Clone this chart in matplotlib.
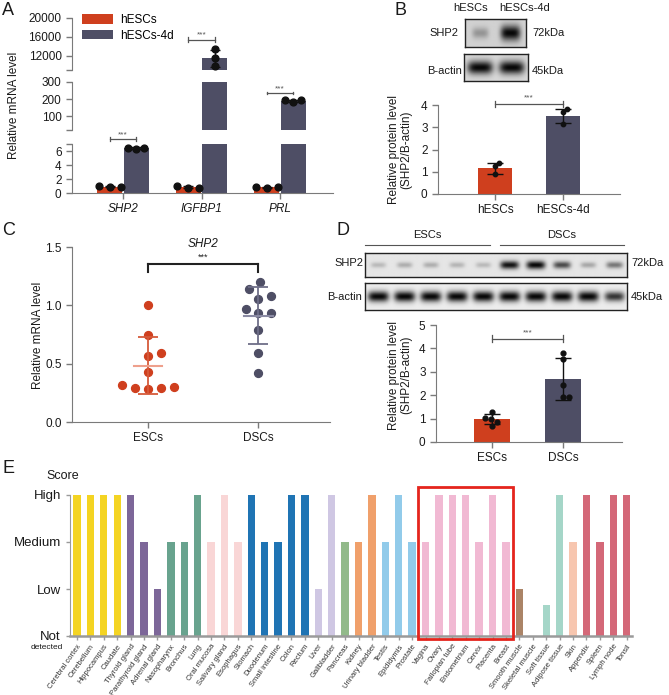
import numpy as np
import matplotlib
matplotlib.use('Agg')
import matplotlib.pyplot as plt
from matplotlib.patches import Patch, Rectangle

plt.rcParams['font.family'] = ['Liberation Sans', 'DejaVu Sans']

W, H = 669, 695
RED = '#cf3f1e'
DARK = '#4e4e65'
AX_C = '#7a7a7a'
TXT = '#1a1a1a'

# A: qPCR hESCs vs hESCs-4d
genes = ['SHP2', 'IGFBP1', 'PRL']
a_ctrl_mean = [0.9, 0.8, 0.8]
a_ctrl_err = [0.05, 0.15, 0.08]
a_ctrl_pts = [[0.9, 0.95, 0.9], [0.65, 0.95, 0.7], [0.75, 0.9, 0.9]]
a_dec_mean = [6.4, 11500, 190]
a_dec_err = [0.12, 1800, 5]
a_dec_pts = [[6.25, 6.5, 6.5], [13400, 11500, 9800], [186, 194, 195]]

# B: western blot hESCs vs hESCs-4d
b_groups = ['hESCs', 'hESCs-4d']
b_mean = [1.15, 3.5]
b_err = [0.25, 0.33]
b_pts = [[1.4, 1.25, 0.9], [3.8, 3.7, 3.15]]
b_shp2_band = [0.3, 1.0]
b_actin_band = [1.0, 1.0]

# C: SHP2 mRNA in ESCs / DSCs
c_groups = ['ESCs', 'DSCs']
c_escs = [1.0, 0.746, 0.588, 0.568, 0.43, 0.29, 0.313, 0.295, 0.304, 0.284]
c_dscs = [1.199, 1.139, 1.084, 1.058, 0.972, 0.932, 0.932, 0.789, 0.588, 0.424]
c_mean = [0.482, 0.912]
c_sd = [0.244, 0.244]

# D: western blot ESCs / DSCs
d_groups = ['ESCs', 'DSCs']
d_mean = [0.97, 2.7]
d_err = [0.21, 0.9]
d_pts = [[1.29, 0.87, 1.04, 0.69, 1.0], [3.79, 3.53, 2.43, 1.93, 1.93]]
d_shp2_band = [0.2, 0.25, 0.25, 0.22, 0.2, 0.95, 1.0, 0.7, 0.28, 0.5]
d_actin_band = [1.0, 1.0, 1.0, 1.0, 1.0, 1.0, 1.0, 1.0, 1.0, 0.8]

# E: tissue expression score
tissues = ['Cerebral cortex', 'Cerebellum', 'Hippocampus', 'Caudate', 'Thyroid gland',
           'Parathyroid gland', 'Adrenal gland', 'Nasopharynx', 'Bronchus', 'Lung',
           'Oral mucosa', 'Salivary gland', 'Esophagus', 'Stomach', 'Duodenum',
           'Small intestine', 'Colon', 'Rectum', 'Liver', 'Gallbladder', 'Pancreas',
           'Kidney', 'Urinary bladder', 'Testis', 'Epididymis', 'Prostate', 'Vagina',
           'Ovary', 'Fallopian tube', 'Endometrium', 'Cervix', 'Placenta', 'Breast',
           'Smooth muscle', 'Skeletal muscle', 'Soft tissue', 'Adipose tissue', 'Skin',
           'Appendix', 'Spleen', 'Lymph node', 'Tonsil']
scores = [3, 3, 3, 3, 3, 2, 1, 2, 2, 3, 2, 3, 2, 3, 2, 2, 3, 3, 1, 3, 2,
          2, 3, 2, 3, 2, 2, 3, 3, 3, 2, 3, 2, 1, 0, 0.67, 3, 2, 3, 2, 3, 3]
score_labels = ['Not', 'Low', 'Medium', 'High']
organ_colors = [('#f4d423', 4), ('#7d6799', 3), ('#68a38e', 3), ('#f9d6d6', 3),
                ('#1f74b4', 5), ('#cfc7e3', 2), ('#92ba8a', 1), ('#f0a06b', 2),
                ('#92cbea', 3), ('#f1b9d3', 7), ('#ab8467', 2), ('#a5d6c8', 2),
                ('#f7c6af', 1), ('#d46878', 4)]

fig = plt.figure(figsize=(W / 100, H / 100), dpi=100)


def px(x, y):
    return x / W, 1 - y / H


def add_ax(x0, y0, x1, y1):
    return fig.add_axes([x0 / W, 1 - y1 / H, (x1 - x0) / W, (y1 - y0) / H])


def clean(ax, bottom=True):
    for s in ['top', 'right']:
        ax.spines[s].set_visible(False)
    ax.spines['left'].set_color(AX_C)
    ax.spines['bottom'].set_color(AX_C)
    ax.tick_params(colors=AX_C, labelcolor=TXT, length=4, width=1, labelsize=8.5)
    if not bottom:
        ax.spines['bottom'].set_visible(False)
        ax.tick_params(axis='x', bottom=False, labelbottom=False)


def swarm(ax, xc, vals, gap):
    # simple beeswarm in pixel space, returns x in data units
    tr = ax.transData
    pix = tr.transform(np.column_stack([np.full(len(vals), xc), vals]))
    x0 = pix[0, 0]
    steps = np.arange(0.5, 8 * gap, 0.5)
    cands = np.concatenate([[0], np.column_stack([steps, -steps]).ravel()])
    placed = []
    xs = np.empty(len(vals))
    for i in np.argsort(vals):
        y = pix[i, 1]
        for c in cands:
            if all((x0 + c - a) ** 2 + (y - b) ** 2 >= gap ** 2 for a, b in placed):
                break
        placed.append((x0 + c, y))
        xs[i] = x0 + c
    return tr.inverted().transform(np.column_stack([xs, pix[:, 1]]))[:, 0]


def bracket(ax, x0, x1, y, tick, ty, color='#555555', lw=0.9, down=False, fs=6):
    lo, hi = (y - tick, y) if down else (y - tick, y + tick)
    ax.plot([x0, x1], [y, y], color=color, lw=lw, clip_on=False)
    for xx in (x0, x1):
        ax.plot([xx, xx], [lo, hi], color=color, lw=lw, clip_on=False)
    ax.text((x0 + x1) / 2, ty, '***', ha='center', va='bottom', fontsize=fs,
            color=color, clip_on=False)


def blot(ax, levels, bg, bw, bh):
    n = len(levels)
    xx = np.linspace(0, n, n * 40)
    yy = np.linspace(-1, 1, 40)
    X, Y = np.meshgrid(xx, yy)
    img = np.zeros_like(X)
    for i, lv in enumerate(levels):
        sw = bw * (0.75 + 0.25 * lv)
        sh = bh * (0.6 + 0.4 * lv)
        img += lv * np.exp(-((X - i - 0.5) / sw) ** 4 - (Y / sh) ** 2)
    img = bg - (bg - 0.03) * np.clip(img, 0, 1)
    ax.imshow(img, cmap='gray', vmin=0, vmax=1, aspect='auto', extent=(0, n, 0, 1))
    ax.set_xticks([])
    ax.set_yticks([])
    for s in ax.spines.values():
        s.set_color('#222222')
        s.set_linewidth(1)


# ---------------- A ----------------
ax_top = add_ax(72, 18, 333, 70)
ax_mid = add_ax(72, 82, 333, 130)
ax_bot = add_ax(72, 144, 333, 193)
a_axes = [ax_top, ax_mid, ax_bot]
lims = [(9000, 20000), (20, 300), (0, 7)]
ticks = [([9000, 12000, 16000, 20000], ['', '12000', '16000', '20000']),
         ([20, 100, 200, 300], ['', '100', '200', '300']),
         ([0, 2, 4, 6, 7], ['0', '2', '4', '6', ''])]
xg = np.arange(len(genes))
off, bw = 0.17, 0.32
for ax, lim, (tv, tl) in zip(a_axes, lims, ticks):
    ax.bar(xg - off, a_ctrl_mean, bw, color=RED, zorder=2)
    ax.bar(xg + off, a_dec_mean, bw, color=DARK, zorder=2)
    ax.errorbar(xg - off, a_ctrl_mean, yerr=a_ctrl_err, fmt='none', ecolor='#111111',
                elinewidth=1, capsize=3.5, zorder=3)
    ax.errorbar(xg + off, a_dec_mean, yerr=a_dec_err, fmt='none', ecolor='#111111',
                elinewidth=1, capsize=3.5, zorder=3)
    ax.set_xlim(-0.65, 2.675)
    ax.set_ylim(*lim)
    ax.set_yticks(tv)
    ax.set_yticklabels(tl)
    clean(ax, bottom=(ax is ax_bot))
ax_bot.set_xticks(xg)
ax_bot.set_xticklabels(genes, style='italic')


def seg_for(v):
    for ax, (lo, hi) in zip(a_axes, lims):
        if lo <= v <= hi:
            return ax
    return ax_bot


for i in range(len(genes)):
    for xc, pts, gap in ((xg[i] - off, a_ctrl_pts[i], 11), (xg[i] + off, a_dec_pts[i], 8)):
        home = seg_for(np.median(pts))
        xs = swarm(home, xc, pts, gap)
        for xv, yv in zip(xs, pts):
            seg_for(yv).scatter([xv], [yv], s=24, color='#111111', zorder=4,
                                clip_on=False)

bracket(ax_bot, -off, off, 7.7, 0.3, 7.85)
bracket(ax_top, 1 - off, 1 + off, 15400, 500, 15700)
bracket(ax_mid, 2 - off, 2 + off, 236, 7, 242)
fig.text(*px(14, 105), 'Relative mRNA level', rotation=90, ha='center', va='center',
         fontsize=8.5, color=TXT)
fig.legend(handles=[Patch(fc=RED, label='hESCs'), Patch(fc=DARK, label='hESCs-4d')],
           loc='upper left', bbox_to_anchor=px(82, 14), frameon=False, fontsize=8.5,
           handlelength=2.6, handleheight=0.9, labelspacing=0.3, handletextpad=0.6,
           borderaxespad=0, borderpad=0)

# ---------------- B ----------------
bl1 = add_ax(465, 19, 526, 47)
blot(bl1, b_shp2_band, 0.82, 0.33, 0.55)
bl2 = add_ax(464, 54, 528, 81)
blot(bl2, b_actin_band, 0.85, 0.4, 0.5)
for xx, lab in zip([471, 525], b_groups):
    fig.text(*px(xx, 8), lab, ha='center', va='center', fontsize=8, color=TXT)
fig.text(*px(458, 33), 'SHP2', ha='right', va='center', fontsize=8, color=TXT)
fig.text(*px(462, 71), 'B-actin', ha='right', va='center', fontsize=8, color=TXT)
fig.text(*px(532, 33), '72kDa', ha='left', va='center', fontsize=8, color=TXT)
fig.text(*px(532, 71), '45kDa', ha='left', va='center', fontsize=8, color=TXT)

ax_b = add_ax(438, 105, 620, 194)
xb = np.arange(2)
ax_b.bar(xb, b_mean, 0.5, color=[RED, DARK], zorder=2)
ax_b.errorbar(xb, b_mean, yerr=b_err, fmt='none', ecolor='#111111', elinewidth=1,
              capsize=6, zorder=3)
ax_b.set_xlim(-0.84, 1.84)
ax_b.set_ylim(0, 4)
ax_b.set_yticks([0, 1, 2, 3, 4])
ax_b.set_xticks(xb)
ax_b.set_xticklabels(b_groups)
clean(ax_b)
for i in range(2):
    ax_b.scatter(swarm(ax_b, xb[i], b_pts[i], 5), b_pts[i], s=10, color='#111111', zorder=4)
bracket(ax_b, 0, 1, 4.05, 0.12, 4.15)
fig.text(*px(400, 150), 'Relative protein level\n(SHP2/B-actin)', rotation=90,
         ha='center', va='center', fontsize=8.5, color=TXT, linespacing=1.1)

# ---------------- C ----------------
ax_c = add_ax(72, 247, 330, 422)
xc_ = np.arange(2)
ax_c.set_xlim(-0.69, 1.65)
ax_c.set_ylim(0, 1.5)
clean(ax_c)
ax_c.set_yticks([0, 0.5, 1.0, 1.5])
ax_c.set_yticklabels(['0.0', '0.5', '1.0', '1.5'])
ax_c.set_xticks(xc_)
ax_c.set_xticklabels(c_groups)
line_cols = [('#d65a3a', '#eea08c'), ('#6e6e88', '#8a8aa3')]
for i, vals in enumerate([c_escs, c_dscs]):
    col = [RED, DARK][i]
    ax_c.scatter(swarm(ax_c, xc_[i], vals, 13), vals, s=32, color=col, zorder=3)
    vc, mc = line_cols[i]
    ax_c.errorbar(xc_[i], c_mean[i], yerr=c_sd[i], fmt='none', ecolor=vc,
                  elinewidth=1.3, capsize=7, capthick=1.3, zorder=4)
    ax_c.plot([xc_[i] - 0.13, xc_[i] + 0.13], [c_mean[i]] * 2, color=mc, lw=1.5, zorder=4)
bracket(ax_c, 0, 1, 1.354, 0.07, 1.37, color='#222222', lw=1.5, down=True, fs=6.5)
ax_c.text(0.5, 1.5, 'SHP2', style='italic', ha='center', va='baseline', fontsize=8.5,
          color=TXT)
fig.text(*px(38, 335), 'Relative mRNA level', rotation=90, ha='center', va='center',
         fontsize=8.5, color=TXT)

# ---------------- D ----------------
bd1 = add_ax(365, 253, 627, 277)
blot(bd1, d_shp2_band, 0.9, 0.36, 0.35)
bd2 = add_ax(365, 283, 627, 310)
blot(bd2, d_actin_band, 0.93, 0.4, 0.4)
for (x0, x1), lab in zip([(365, 490), (500, 624)], d_groups):
    fig.text(*px((x0 + x1) / 2, 235), lab, ha='center', va='center', fontsize=8, color=TXT)
    fig.add_artist(plt.Line2D([x0 / W, x1 / W], [1 - 245 / H] * 2, color='#555555', lw=0.8))
fig.text(*px(363, 263), 'SHP2', ha='right', va='center', fontsize=8, color=TXT)
fig.text(*px(362, 297), 'B-actin', ha='right', va='center', fontsize=8, color=TXT)
fig.text(*px(631, 263), '72kDa', ha='left', va='center', fontsize=8, color=TXT)
fig.text(*px(631, 297), '45kDa', ha='left', va='center', fontsize=8, color=TXT)

ax_d = add_ax(436, 325, 622, 442)
xd = np.arange(2)
ax_d.bar(xd, d_mean, 0.5, color=[RED, DARK], zorder=2)
ax_d.errorbar(xd, d_mean, yerr=d_err, fmt='none', ecolor='#111111', elinewidth=1,
              capsize=6, zorder=3)
ax_d.set_xlim(-0.79, 1.83)
ax_d.set_ylim(0, 5)
ax_d.set_yticks([0, 1, 2, 3, 4, 5])
ax_d.set_xticks(xd)
ax_d.set_xticklabels(d_groups)
clean(ax_d)
for i in range(2):
    ax_d.scatter(swarm(ax_d, xd[i], d_pts[i], 6), d_pts[i], s=12, color='#111111', zorder=4)
bracket(ax_d, 0, 1, 4.41, 0.15, 4.5)
fig.text(*px(400, 375), 'Relative protein level\n(SHP2/B-actin)', rotation=90,
         ha='center', va='center', fontsize=8.5, color=TXT, linespacing=1.1)

# ---------------- E ----------------
ax_e = add_ax(70, 495, 632, 636)
colors = [c for c, n in organ_colors for _ in range(n)]
xe = np.arange(len(tissues))
ax_e.bar(xe, scores, 0.55, color=colors, zorder=2)
ax_e.set_xlim(-0.52, 41.4)
ax_e.set_ylim(0, 3)
for s in ['top', 'right']:
    ax_e.spines[s].set_visible(False)
ax_e.spines['left'].set_color('#9a9a9a')
ax_e.spines['bottom'].set_color('#9a9a9a')
ax_e.spines['bottom'].set_linewidth(1.8)
ax_e.set_yticks(range(4))
ax_e.set_yticklabels(score_labels, fontsize=9.5, color=TXT)
ax_e.set_xticks(xe)
ax_e.set_xticklabels(tissues, rotation=55, ha='right', rotation_mode='anchor',
                     fontsize=5.5, color='#333333')
ax_e.tick_params(colors='#9a9a9a', length=3, width=1)
ax_e.tick_params(axis='y', labelcolor=TXT)
ax_e.tick_params(axis='x', labelcolor='#333333', pad=2)
ax_e.text(-0.013, -0.25, 'detected', transform=ax_e.get_yaxis_transform(), ha='right',
          va='center', fontsize=6, color=TXT)
ax_e.text(-0.0125, 3.4, 'Score', transform=ax_e.get_yaxis_transform(), ha='center',
          va='center', fontsize=9, color=TXT, clip_on=False)
ax_e.add_patch(Rectangle((25.45, -0.06), 7.1, 3.23, fill=False, ec='#e5251d', lw=2,
                         clip_on=False, zorder=5))

# panel letters
for lab, (xx, yy) in zip('ABCDE', [(2, 2), (395, 2), (2, 222), (337, 222), (2, 460)]):
    fig.text(*px(xx, yy), lab, ha='left', va='top', fontsize=13, color=TXT)

fig.savefig('out.png', dpi=100)
